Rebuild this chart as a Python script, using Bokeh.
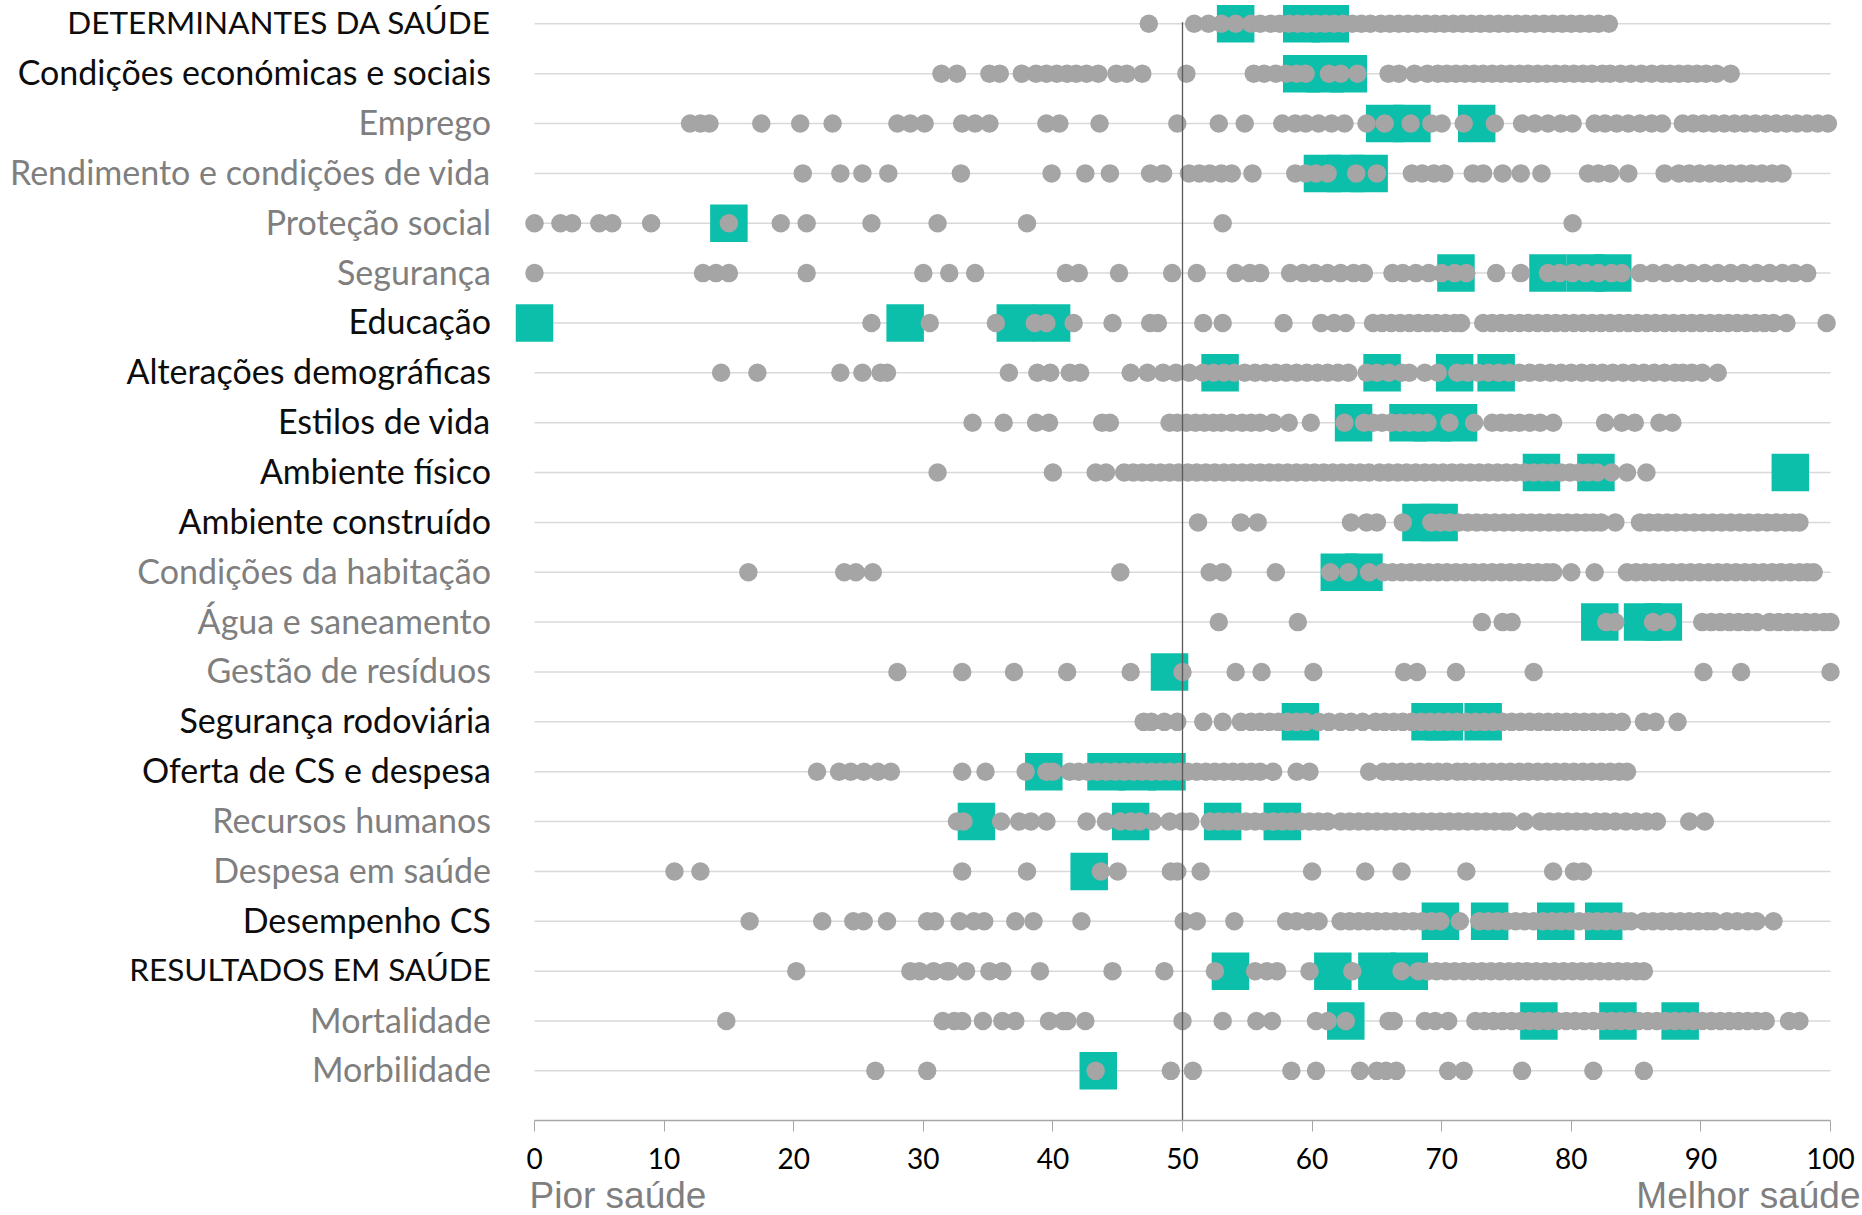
from bokeh.plotting import figure
from bokeh.models import ColumnDataSource, LabelSet, Range1d, FixedTicker, LinearAxis, Label
from bokeh.core.properties import value
from bokeh.embed import file_html
from bokeh.resources import INLINE

categories = [
    "DETERMINANTES DA SAÚDE", "Condições económicas e sociais", "Emprego",
    "Rendimento e condições de vida", "Proteção social", "Segurança", "Educação",
    "Alterações demográficas", "Estilos de vida", "Ambiente físico",
    "Ambiente construído", "Condições da habitação", "Água e saneamento",
    "Gestão de resíduos", "Segurança rodoviária", "Oferta de CS e despesa",
    "Recursos humanos", "Despesa em saúde", "Desempenho CS",
    "RESULTADOS EM SAÚDE", "Mortalidade", "Morbilidade",
]
main_categories = [
    "DETERMINANTES DA SAÚDE", "Condições económicas e sociais", "Educação",
    "Alterações demográficas", "Estilos de vida", "Ambiente físico",
    "Ambiente construído", "Segurança rodoviária", "Oferta de CS e despesa",
    "Desempenho CS", "RESULTADOS EM SAÚDE",
]

g_determinantes = [47.4, 50.9, 52.0, 53.0, 54.1, 55.3, 56.0, 56.8, 57.5, 58.2, 58.9, 59.6, 60.3, 61.0, 61.7, 62.4, 63.1, 63.8, 64.5, 65.3, 66.0, 66.7, 67.4, 68.1, 68.8, 69.5, 70.2, 70.9, 71.6, 72.3, 73.0, 73.7, 74.4, 75.1, 75.8, 76.5, 77.2, 77.9, 78.6, 79.3, 80.0, 80.7, 81.4, 82.1, 82.9]
g_cond_econ = [31.4, 32.6, 35.1, 35.9, 37.6, 38.7, 39.5, 40.3, 41.1, 41.8, 42.6, 43.5, 44.9, 45.7, 46.9, 50.3, 55.5, 56.3, 57.2, 58.0, 58.8, 59.5, 61.3, 62.2, 63.5, 65.9, 66.7, 67.9, 68.9, 69.7, 70.4, 71.1, 71.8, 72.5, 73.2, 73.9, 74.6, 75.3, 76.0, 76.7, 77.4, 78.1, 78.8, 79.5, 80.2, 80.9, 81.6, 82.4, 83.0, 83.8, 84.6, 85.4, 86.2, 87.0, 87.6, 88.3, 89.0, 89.7, 90.4, 91.2, 92.3]
g_emprego = [12.0, 12.8, 13.5, 17.5, 20.5, 23.0, 28.0, 29.0, 30.1, 33.0, 34.0, 35.1, 39.5, 40.5, 43.6, 49.6, 52.8, 54.8, 57.7, 58.7, 59.5, 60.5, 61.5, 62.5, 64.2, 65.6, 67.6, 69.2, 70.0, 71.7, 74.1, 76.2, 77.2, 78.2, 79.2, 80.1, 81.8, 82.6, 83.5, 84.4, 85.3, 86.2, 87.0, 88.6, 89.4, 90.2, 91.0, 91.8, 92.6, 93.4, 94.2, 95.0, 95.8, 96.6, 97.4, 98.2, 99.0, 99.8]
g_rendimento = [20.7, 23.6, 25.3, 27.3, 32.9, 39.9, 42.5, 44.4, 47.5, 48.5, 50.5, 51.3, 52.1, 53.0, 53.8, 55.4, 58.7, 59.5, 60.3, 61.2, 63.4, 65.0, 67.7, 68.5, 69.4, 70.2, 72.4, 73.2, 74.7, 76.1, 77.7, 81.3, 82.1, 83.0, 84.4, 87.2, 88.3, 89.1, 89.9, 90.7, 91.5, 92.3, 93.1, 93.9, 94.7, 95.5, 96.3]
g_protecao = [0.0, 2.0, 2.9, 5.0, 6.0, 9.0, 15.0, 19.0, 21.0, 26.0, 31.1, 38.0, 53.1, 80.1]
g_seguranca = [0.0, 13.0, 14.0, 15.0, 21.0, 30.0, 32.0, 34.0, 41.0, 42.0, 45.1, 49.2, 51.1, 54.1, 55.2, 56.0, 58.3, 59.3, 60.2, 61.2, 62.2, 63.2, 64.0, 66.2, 67.0, 68.0, 69.0, 70.0, 71.0, 71.9, 74.2, 76.1, 78.2, 79.1, 80.1, 81.1, 82.1, 83.1, 83.9, 85.3, 86.3, 87.3, 88.3, 89.3, 90.3, 91.3, 92.3, 93.3, 94.3, 95.3, 96.3, 97.2, 98.2]
g_educacao = [26.0, 30.5, 35.6, 38.6, 39.5, 41.6, 44.6, 47.5, 48.1, 51.6, 53.1, 57.8, 60.7, 61.7, 62.6, 64.7, 65.4, 66.1, 66.8, 67.5, 68.2, 68.9, 69.6, 70.3, 71.0, 71.5, 73.2, 73.9, 74.6, 75.3, 76.0, 76.7, 77.4, 78.1, 78.8, 79.5, 80.2, 80.9, 81.6, 82.3, 83.0, 83.7, 84.4, 85.1, 85.8, 86.5, 87.2, 87.9, 88.6, 89.3, 90.0, 90.7, 91.4, 92.1, 92.8, 93.5, 94.2, 94.9, 95.6, 96.6, 99.7]
g_alteracoes = [14.4, 17.2, 23.6, 25.3, 26.7, 27.2, 36.6, 38.8, 39.8, 41.3, 42.1, 46.0, 47.3, 48.5, 49.5, 50.5, 51.6, 52.4, 53.2, 54.0, 54.8, 55.6, 56.4, 57.2, 58.0, 58.8, 59.6, 60.4, 61.2, 62.0, 62.8, 64.2, 65.0, 65.9, 66.9, 67.5, 68.7, 69.7, 71.2, 72.0, 72.8, 73.6, 74.4, 75.2, 76.0, 76.8, 77.6, 78.4, 79.2, 80.0, 80.8, 81.6, 82.4, 83.2, 84.0, 84.8, 85.6, 86.4, 87.2, 88.0, 88.6, 89.3, 90.1, 91.3]
g_estilos = [33.8, 36.2, 38.7, 39.7, 43.8, 44.4, 49.0, 49.6, 50.3, 51.0, 51.7, 52.4, 53.0, 53.8, 54.6, 55.3, 56.0, 57.0, 58.2, 59.9, 62.5, 64.0, 64.7, 65.4, 66.1, 66.8, 67.5, 68.2, 68.9, 70.6, 72.5, 73.9, 74.6, 75.3, 76.0, 76.8, 77.6, 78.6, 82.6, 83.9, 84.9, 86.8, 87.8]
g_amb_fisico = [31.1, 40.0, 43.3, 44.1, 45.5, 46.2, 46.9, 47.6, 48.3, 49.0, 49.7, 50.4, 51.1, 51.8, 52.5, 53.2, 53.9, 54.6, 55.3, 56.0, 56.7, 57.4, 58.1, 58.8, 59.5, 60.2, 60.9, 61.6, 62.3, 63.0, 63.7, 64.4, 65.2, 65.9, 66.6, 67.3, 68.0, 68.7, 69.4, 70.1, 70.8, 71.5, 72.2, 72.9, 73.6, 74.3, 75.0, 75.7, 76.4, 77.1, 77.8, 78.5, 79.2, 79.9, 80.6, 81.3, 82.0, 83.1, 84.3, 85.8]
g_amb_construido = [51.2, 54.5, 55.8, 63.0, 64.2, 65.0, 67.0, 69.2, 69.9, 70.6, 71.3, 72.0, 72.7, 73.4, 74.1, 74.8, 75.5, 76.2, 76.9, 77.6, 78.3, 79.0, 79.7, 80.4, 81.1, 81.7, 82.3, 83.4, 85.3, 86.0, 86.7, 87.4, 88.1, 88.8, 89.5, 90.2, 90.9, 91.6, 92.3, 93.0, 93.7, 94.4, 95.1, 95.8, 96.5, 97.1, 97.6]
g_habitacao = [16.5, 23.9, 24.8, 26.1, 45.2, 52.1, 53.1, 57.2, 61.4, 62.8, 64.4, 65.5, 66.2, 66.9, 67.6, 68.3, 69.0, 69.7, 70.4, 71.1, 71.8, 72.5, 73.2, 73.9, 74.6, 75.3, 76.0, 76.7, 77.4, 78.1, 78.6, 80.0, 81.8, 84.3, 85.0, 85.7, 86.4, 87.1, 87.8, 88.5, 89.2, 89.9, 90.6, 91.3, 92.0, 92.7, 93.4, 94.1, 94.8, 95.5, 96.2, 96.9, 97.6, 98.2, 98.7]
g_agua = [52.8, 58.9, 73.1, 74.7, 75.4, 82.7, 83.4, 86.3, 87.4, 90.1, 90.8, 91.5, 92.2, 92.9, 93.6, 94.3, 95.3, 96.0, 96.7, 97.4, 98.1, 98.8, 99.5, 100.0]
g_residuos = [28.0, 33.0, 37.0, 41.1, 46.0, 50.0, 54.1, 56.1, 60.1, 67.1, 68.1, 71.1, 77.1, 90.2, 93.1, 100.0]
g_rodoviaria = [47.0, 47.6, 48.6, 49.6, 51.6, 53.1, 54.5, 55.3, 56.0, 56.7, 57.4, 58.1, 58.8, 59.5, 60.5, 61.3, 62.2, 63.0, 63.9, 64.9, 65.6, 66.3, 67.0, 67.7, 68.4, 69.1, 69.8, 70.5, 71.2, 71.9, 72.6, 73.3, 74.0, 74.7, 75.4, 76.1, 76.8, 77.5, 78.2, 78.9, 79.6, 80.3, 81.0, 81.7, 82.4, 83.1, 83.9, 85.6, 86.5, 88.2]
g_oferta = [21.8, 23.5, 24.4, 25.4, 26.5, 27.5, 33.0, 34.8, 37.9, 39.5, 40.0, 41.3, 42.0, 42.7, 43.4, 44.1, 44.8, 45.5, 46.2, 46.9, 47.6, 48.3, 49.0, 49.7, 50.4, 51.1, 51.8, 52.5, 53.2, 53.9, 54.6, 55.3, 56.0, 57.0, 58.8, 59.8, 64.4, 65.5, 66.2, 66.9, 67.6, 68.3, 69.0, 69.7, 70.4, 71.2, 71.8, 72.5, 73.2, 73.9, 74.6, 75.3, 76.0, 76.7, 77.4, 78.1, 78.8, 79.5, 80.2, 80.9, 81.6, 82.3, 83.0, 83.7, 84.3]
g_recursos = [32.6, 33.1, 36.0, 37.4, 38.3, 39.5, 42.6, 44.1, 45.2, 46.0, 46.7, 47.7, 49.0, 50.0, 50.6, 52.1, 52.8, 53.5, 54.2, 54.9, 55.6, 56.3, 57.0, 57.7, 58.4, 59.1, 59.8, 60.5, 61.2, 62.2, 62.9, 63.6, 64.3, 65.0, 65.7, 66.4, 67.1, 67.8, 68.5, 69.2, 69.9, 70.6, 71.3, 72.0, 72.7, 73.4, 74.1, 74.8, 75.2, 76.4, 77.6, 78.3, 79.0, 79.7, 80.4, 81.1, 81.9, 82.6, 83.4, 84.2, 85.0, 85.8, 86.6, 89.1, 90.3]
g_despesa = [10.8, 12.8, 33.0, 38.0, 43.7, 45.0, 49.1, 49.6, 51.4, 60.0, 64.1, 66.9, 71.9, 78.6, 80.2, 80.9]
g_desempenho = [16.6, 22.2, 24.6, 25.4, 27.2, 30.3, 30.9, 32.8, 33.9, 34.7, 37.1, 38.5, 42.2, 50.1, 51.1, 54.0, 58.0, 58.8, 59.7, 60.5, 62.2, 62.9, 63.6, 64.3, 65.0, 65.7, 66.4, 67.1, 67.8, 68.5, 69.2, 69.9, 71.4, 72.9, 73.6, 74.3, 75.0, 75.7, 76.4, 77.1, 77.8, 78.5, 79.2, 79.9, 80.6, 81.3, 82.0, 82.7, 83.4, 84.1, 84.6, 85.6, 86.3, 87.0, 87.7, 88.4, 89.1, 89.8, 90.5, 91.0, 92.0, 92.8, 93.6, 94.3, 95.6]
g_resultados = [20.2, 29.0, 29.7, 30.8, 31.8, 32.0, 33.3, 35.1, 36.1, 39.0, 44.6, 48.6, 52.5, 55.6, 56.5, 57.3, 59.8, 63.1, 66.9, 68.2, 68.9, 69.6, 70.3, 71.0, 71.7, 72.4, 73.1, 73.8, 74.5, 75.2, 75.9, 76.6, 77.3, 78.0, 78.7, 79.4, 80.1, 80.8, 81.5, 82.2, 82.9, 83.6, 84.3, 85.0, 85.6]
g_mortalidade = [14.8, 31.5, 32.4, 33.0, 34.6, 36.1, 37.1, 39.7, 40.8, 41.1, 42.5, 50.0, 53.1, 55.7, 56.9, 60.3, 61.2, 62.6, 65.9, 66.3, 68.7, 69.5, 70.5, 72.6, 73.3, 74.0, 74.7, 75.4, 76.1, 76.8, 77.5, 78.2, 78.9, 79.6, 80.3, 81.0, 81.7, 82.4, 83.1, 83.8, 84.5, 85.2, 85.9, 86.6, 87.3, 88.0, 88.7, 89.4, 90.1, 90.8, 91.5, 92.2, 92.9, 93.6, 94.3, 95.0, 96.8, 97.6]
g_morbilidade = [26.3, 30.3, 43.3, 49.1, 50.8, 58.4, 60.3, 63.7, 65.0, 65.7, 66.5, 70.5, 71.7, 76.2, 81.7, 85.6]

grey_rows = [g_determinantes, g_cond_econ, g_emprego, g_rendimento, g_protecao,
             g_seguranca, g_educacao, g_alteracoes, g_estilos, g_amb_fisico,
             g_amb_construido, g_habitacao, g_agua, g_residuos, g_rodoviaria,
             g_oferta, g_recursos, g_despesa, g_desempenho, g_resultados,
             g_mortalidade, g_morbilidade]

teal_rows = [
    [54.1, 59.2, 61.4],
    [59.2, 61.0, 62.8],
    [65.6, 67.7, 72.7],
    [60.8, 62.6, 64.4],
    [15.0],
    [71.1, 78.2, 81.1, 83.2],
    [0.0, 28.6, 37.1, 39.9],
    [52.9, 65.4, 71.0, 74.2],
    [63.2, 67.4, 69.3, 71.3],
    [77.7, 81.9, 96.9],
    [68.4, 69.8],
    [62.1, 64.0],
    [82.2, 85.5, 87.1],
    [49.0],
    [59.1, 69.1, 70.2, 73.2],
    [39.3, 44.1, 46.5, 48.8],
    [34.1, 46.0, 53.1, 57.7],
    [42.8],
    [69.9, 73.7, 78.8, 82.5],
    [53.7, 61.6, 65.0, 67.5],
    [62.6, 77.5, 83.6, 88.4],
    [43.5],
]

x_ticks = [0, 10, 20, 30, 40, 50, 60, 70, 80, 90, 100]
reference_value = 50
left_caption = "Pior saúde"
right_caption = "Melhor saúde"

# ---- build sources ----
gx, gy = [], []
for i, row in enumerate(grey_rows):
    gx += row
    gy += [i] * len(row)
tx, ty = [], []
for i, row in enumerate(teal_rows):
    tx += row
    ty += [i] * len(row)

rows_idx = list(range(len(categories)))
label_src = ColumnDataSource(dict(
    x=[0] * len(categories), y=rows_idx, name=categories,
    color=["#0d0d0d" if c in main_categories else "#7f7f7f" for c in categories],
    fsize=["31.5px" if c.isupper() else "34px" for c in categories],
))

# ---- geometry (pixels) ----
W, H = 1862, 1215
PX_PER_UNIT = 12.96
ROW_PX = 49.86
X0_PX = 534.0
ROW0_PX = 23.3
AXIS_PX = 1120.0
CAPTION_BASE_PX = 1195.0

x_start = -X0_PX / PX_PER_UNIT
x_end = x_start + W / PX_PER_UNIT
y_end = -ROW0_PX / ROW_PX
y_start = y_end + H / ROW_PX
axis_y = y_end + AXIS_PX / ROW_PX
caption_y = y_end + CAPTION_BASE_PX / ROW_PX

p = figure(width=W, height=H,
           x_range=Range1d(x_start, x_end), y_range=Range1d(y_start, y_end),
           output_backend="svg", toolbar_location=None,
           min_border_left=0, min_border_right=0, min_border_top=0,
           min_border_bottom=0, x_axis_location=None, y_axis_location=None,
           outline_line_color=None, background_fill_color="white")
p.grid.visible = False

# row lines
p.segment(x0=[0] * len(rows_idx), y0=rows_idx, x1=[100] * len(rows_idx), y1=rows_idx,
          line_color="#d9d9d9", line_width=1.5)

p.scatter(x=tx, y=ty, marker="square", size=37.5, fill_color="#0bbfab", line_color=None)
p.scatter(x=gx, y=gy, marker="circle", size=18.5, fill_color="#a5a5a5", line_color=None)

p.segment(x0=[reference_value], y0=[-0.03], x1=[reference_value], y1=[axis_y],
          line_color="#595959", line_width=1.3)

labels = LabelSet(x="x", y="y", text="name", source=label_src, text_color="color",
                  x_offset=-43.5, y_offset=2, text_align="right", text_baseline="middle",
                  text_font=value("Lato"), text_font_size="fsize")
p.add_layout(labels)

ax = LinearAxis(fixed_location=axis_y)
ax.ticker = FixedTicker(ticks=x_ticks)
ax.bounds = (0, 100)
ax.axis_line_color = "#a6a6a6"
ax.axis_line_width = 1.5
ax.major_tick_line_color = "#a6a6a6"
ax.major_tick_line_width = 1
ax.major_tick_out = 11
ax.major_tick_in = 0
ax.minor_tick_line_color = None
ax.major_label_text_font = "Lato"
ax.major_label_text_font_size = "28px"
ax.major_label_text_color = "#000000"
ax.major_label_standoff = 16
p.add_layout(ax, "below")

p.add_layout(Label(x=0, y=caption_y, text=left_caption, x_offset=-5,
                   text_align="left", text_baseline="alphabetic",
                   text_font="Liberation Sans", text_font_size="37px",
                   text_color="#7f7f7f"))
p.add_layout(Label(x=100, y=caption_y, text=right_caption, x_offset=30,
                   text_align="right", text_baseline="alphabetic",
                   text_font="Liberation Sans", text_font_size="37px",
                   text_color="#7f7f7f"))

open("out.html", "w").write(file_html(p, INLINE))
